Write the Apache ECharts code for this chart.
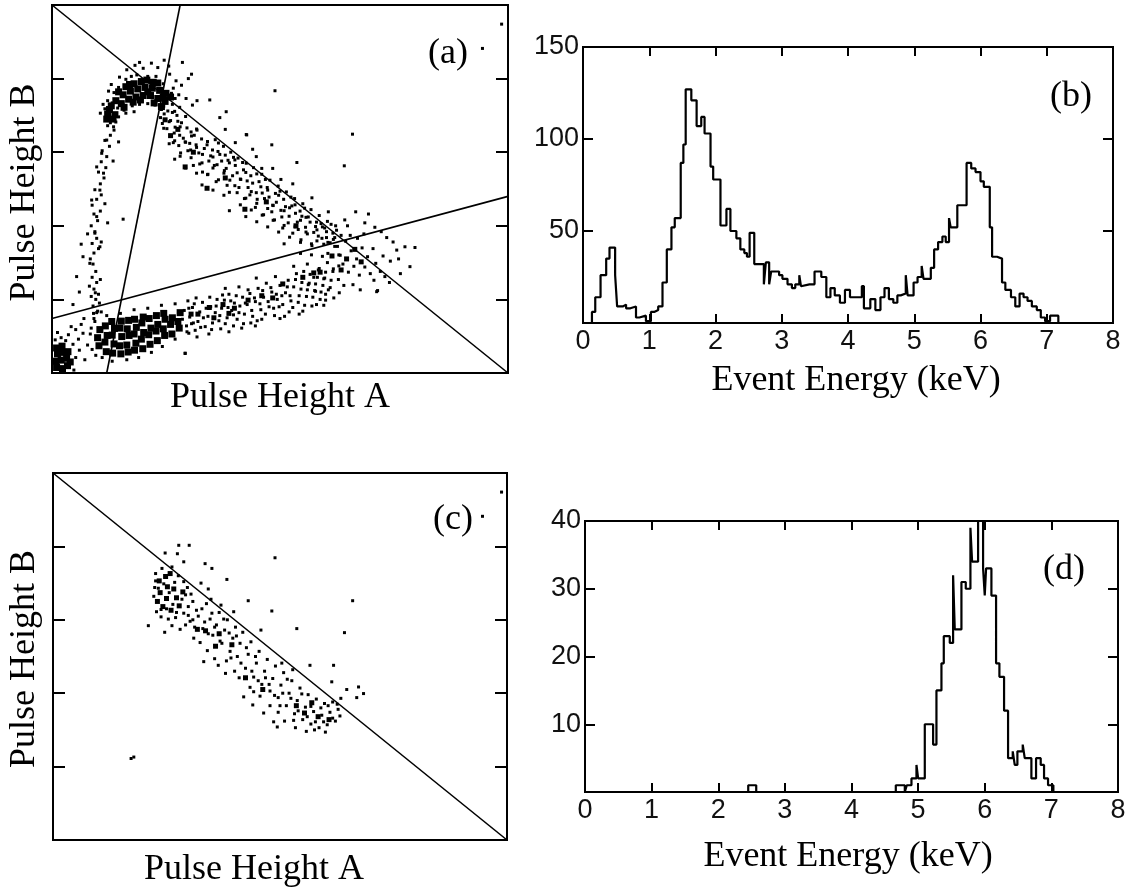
<!DOCTYPE html>
<html>
<head>
<meta charset="utf-8">
<script src="https://cdn.jsdelivr.net/npm/echarts@6/dist/echarts.min.js"></script>
<style>html,body{margin:0;padding:0;background:#fff}#c{width:1131px;height:892px}</style>
</head>
<body>
<div id="c"></div>
<script>
// ---------------- DATA ----------------
// Panel (b) histogram: bin edges (keV) and counts
const edgesB = [0.135,0.185,0.265,0.35,0.40,0.485,0.515,0.60,0.65,0.715,0.80,0.85,0.95,1.025,1.075,1.135,1.20,1.265,1.335,1.385,1.475,1.515,1.55,1.635,1.715,1.785,1.835,1.925,1.965,2.075,2.165,2.225,2.315,2.375,2.435,2.475,2.515,2.585,2.73,2.76,2.81,2.84,2.96,3.01,3.087,3.153,3.204,3.265,3.29,3.316,3.418,3.495,3.597,3.673,3.735,3.80,3.878,3.954,4.03,4.209,4.24,4.276,4.337,4.413,4.49,4.551,4.617,4.684,4.745,4.796,4.872,4.90,4.99,5.05,5.112,5.14,5.18,5.25,5.30,5.36,5.425,5.475,5.525,5.55,5.575,5.65,5.79,5.86,5.925,6.0,6.05,6.14,6.175,6.25,6.325,6.375,6.46,6.525,6.59,6.65,6.71,6.775,6.85,6.91,6.975,7.05,7.175];
const countsB = [6,14,26,35,41,26,9,10,8,9,3,4,1,6,7,9,22,40,52,57,87,97,127,121,107,112,103,85,78,53,62,50,46,40,38,36,49,32,21,33,21,28,26,24,21,19,21,26,20,21,21,28,25,14,19,15,11,18,14,20,8,8,13,7,14,19,13,11,15,16,26,15,22,25,31,24,24,30,40,44,47,44,57,52,52,64,87,84,82,77,74,52,36,35,22,18,14,9,16,14,12,9,7,3,1,4];

// Panel (d) histogram
const edgesD = [2.45,2.57,4.665,4.80,4.83,4.90,4.975,5.0,5.025,5.10,5.225,5.275,5.35,5.385,5.475,5.525,5.55,5.585,5.65,5.715,5.785,5.81,5.85,5.90,5.925,5.975,6.0,6.02,6.10,6.17,6.22,6.29,6.35,6.42,6.45,6.49,6.57,6.60,6.63,6.70,6.77,6.84,6.86,6.89,6.95,7.03];
const countsD = [1,0,1,0,1,2,4,2,2,10,7,15,19,23,22,32,24,24,31,30,39,34,34,40,44,33,29,33,29,19,17,12,5,6,4,6,7,5,5,2,5,4,4,2,1];

// Tick labels
const energyTicks = [0,1,2,3,4,5,6,7,8];

// Panel (a) cut lines (arbitrary pulse-height units 0-100)
const cutA1 = [[0,100],[100,0]];
const cutA2 = [[28.1,100],[12,0]];
const cutA3 = [[0,14.8],[100,48]];
// Panel (c) cut line
const cutC1 = [[0,100],[100,0]];

// Panel (a) events
const aCornerDense = [[1,1.5],[2.3,1.2],[3.4,2],[0.9,3.2],[2,3.5],[3.2,4],[1.2,5.2],[2.5,5.6],[3.5,5.8],[1,6.8],[2.2,7.3],[4,3]];
const aCornerSparse = [[4.8,0.8],[5.2,4.2],[4.6,7.8],[6,6.2],[2,9.6],[3.6,10.4],[5.8,9.2],[5.2,11.8],[1.2,11],[7.2,3.6],[7.8,7.6],[6.8,10.8],[3,8.8],[0.7,9],[4.2,12.6],[6.4,13.2],[8.4,10.6]];
const aLowDense = [[10.3,7.4],[10,9.6],[10.5,11.8],[11.9,5.8],[11.6,8.4],[12.1,10.2],[11.7,12.8],[13.3,5.4],[13.6,7.9],[13.2,10.3],[13.7,12.1],[13.1,14],[15.1,5.2],[14.8,7.4],[15.3,9.9],[14.9,12.2],[15.2,14.1],[16.7,5.7],[16.4,7.6],[16.9,10.2],[16.5,12],[16.8,14.3],[18.1,6.2],[18.4,8.1],[18,10.6],[18.5,12.4],[18.1,14.6],[19.9,6.6],[19.6,9.2],[20.1,11],[19.7,13.6],[20,15.2],[21.5,7.8],[21.2,10.4],[21.7,12.2],[21.3,14.8],[23.1,8.8],[22.8,11.4],[23.2,13.2],[22.9,15.6],[24.7,10.2],[24.4,12],[24.8,14.6],[24.5,16.2],[26.3,10.6],[26,13.2],[26.4,15],[27.9,12.2],[27.6,14],[28.1,16.4]];
const aLowSparse = [[8.6,12.2],[9.2,14.8],[8.8,6.4],[11,4.2],[13.2,3.2],[16.4,3.6],[19,4.2],[21.8,5.6],[24.2,7.2],[27,9.2],[29.2,5.4],[12,15.6],[15,16.2],[18,17.2],[21,17.6],[24,18.4],[27,18.8],[30,17.6],[29.6,11.2],[31,13.6],[10,16.8],[9.6,4.8]];
const aBand = [[29.5,12.8],[30.2,15.2],[30.8,17.8],[31.4,11.6],[32,14],[32.4,16.6],[33,19.2],[33.6,12.6],[34.2,15.4],[34.8,18],[35.2,13.6],[35.8,16.4],[36.2,20],[29.8,19.6],[31.6,20.4],
 [36.6,14.2],[37.2,17.6],[37.8,19.8],[38.4,15],[38.8,21.4],[39.4,17],[40,19],[40.6,14.6],[41.2,18.2],[41.8,20.6],[42.2,16],[37,12],[39.8,12.8],[42,13.4],[38,23],[41,23.4],
 [42.8,18.6],[43.4,21.6],[44,15.4],[44.6,19.4],[45.2,23],[45.8,17.2],[46.4,20.6],[47,24.4],[47.6,18],[48.2,22],[48.8,15.6],[49.4,20],[50,23.8],[43.6,13.6],[46,14.6],[49,26.2],[44.8,25.8],
 [50.6,18.6],[51.2,21.8],[51.8,25.2],[52.4,19.6],[53,23.4],[53.6,27],[54.2,21],[54.8,24.6],[55.4,18.4],[56,22.6],[56.6,26.8],[57.2,20.6],[57.8,24.2],[58.4,28],[59,22],[59.6,25.6],[52,16.6],[55,16.8],[58,18.6],[60,19.8],[53,29],[56,29.6]];
const aBand2 = [[28.6,14.6],[29,17],[30,10.8],[30.6,13.4],[31.2,18.8],[32.6,12.4],[33.2,15],[33.8,17.6],[34.6,20.6],[35,11.8],[36,18.2],[36.8,15.6],[37.4,21.2],[38,13.4],[38.6,17.8],[39.2,19.6],[39.8,15.8],[40.4,21],[41,16.4],[41.6,12.2],[42.4,19],[43,22.6],[43.8,17],[44.4,20.4],[45,14.2],[45.6,18.8],[46.2,22.4],[46.8,16],[47.4,19.4],[48,23.2],[48.6,17.6],[49.2,21.4],[49.8,18],[50.4,21],[51,15.4],[51.6,23.4],[52.2,21],[52.8,17.8],[53.4,25.4],[54,19.2],[54.6,22.8],[55.2,27.6],[55.8,20.8],[56.4,24.4],[57,18.2],[57.6,22.4],[58.2,26],[58.8,20],[59.4,23.8],[60,27.4],[60.6,22.6],[61.2,25.2],[61.8,20.4],[31.8,9.8],[34.4,10.6],[38.8,11.2],[44.6,12.8],[50,14.8],[54.2,16],[59.6,18.4]];
const aBandClumps = [[34.5,17.8],[37.5,18.6],[40,17.6],[43,19.8],[50.6,24.2],[55,26],[57.4,27.2],[46,21],[32,16],[35.5,15],[30.5,16],[38.8,16.2],[48.4,20.4]];
const aLeftArm = [[9.4,14],[9.8,16.4],[9,18.2],[9.6,20],[10.2,21.4],[9.2,22.8],[9.8,24.6],[8.8,26],[9.6,27.6],[10.4,19],[8.6,20.8],[10.6,25.4],[9,29.6],[8.2,23.6],[10.8,16.6],
 [8.4,31],[9.2,32.6],[10.2,33.8],[8.8,35.2],[9.8,36.6],[10.8,35.6],[9.4,38.4],[8.6,40],[10,41.4],[9.2,43.2],[10.6,44],[8.8,45.6],[9.8,47.2],[10.8,48.4],[9.4,49.8],[11.6,46],[7.8,37.8],[12.2,40.8],[15.6,41.8],
 [10.6,51.4],[11.4,53],[10.2,54.6],[11.8,55.8],[10.8,57.4],[12,58.8],[11,60.4],[12.6,61.6],[11.6,63.2],[12.8,64.6],[13.6,66],[12.2,67.2],[14,68.2],[13,69.4],[9.8,56],[14.6,62.8],[13.4,57.6],
 [5.4,26.2],[6,22],[4.6,18.6],[7,14.8],[6.8,31.6],[6.4,35],[9.5,21.8],[9.1,16.2],[8.3,29.8],[10.5,34.3],[9.4,38],[9.8,42.5],[8.7,47],[10.5,49.7],[11.3,54.3],[10.9,59.7],[12,63.3],[13.5,66.9]];
const aTopDense = [[14,74],[15.6,75.6],[17.2,76.6],[18.8,77.2],[20.4,77.6],[22,77.4],[23.6,76.8],[25,76],[15.2,73.2],[16.8,74.4],[18.4,75],[20,75.4],[21.6,75.4],[23.2,74.6],[24.8,73.8],[12.6,71.6],[13.8,70.2],[12,69],[17,78.4],[19.6,79.2],[22.2,79],
 [13,72.6],[14.6,76.4],[16.2,77.8],[18,78.6],[20.8,79.6],[23.2,78.8],[24.4,75],[21,76.4],[17.8,73.6],[19.4,74.2],[22.4,73.4],[15.8,72.2],[13.4,69],[12.2,70.4],[24,72.4],[26,75]];
const aTopSparse = [[16.4,82.4],[18.2,83.6],[20,82.8],[21.8,84.2],[23.2,83],[24.6,85],[17.4,80.6],[25.8,81.2],[27.2,79.4],[26.6,77.4],[27.8,75.6],[26.4,73],[28,72.2],[12.4,76.6],[11.2,73],[10.6,70.6],[13,78.4],[14.8,80.4],[29.4,74.6],[30.6,81.2],[28.6,84.4],[30.8,72.8],
 [29.9,80],[31.8,74],[34.6,74.2],[38.2,71],[36.8,69.4],
 [13.2,73.4],[14.4,72],[15.8,71.4],[17.6,72.6],[19.2,73],[21,73.2],[22.6,72.8],[24,71.6],[25.6,74.6],[26.2,76],[24.4,78.6],[22.8,80.6],[21,80.6],[18.6,81],[16.2,79.8],[14.6,77.6],[13.6,76.2],[12.2,74],[11.6,71.8],[12.8,68],[14.6,69.6],[16.2,70.6],[18,71],[27,74.6],[28.4,78.2],[19.2,84.4],[25.6,83.4]];
const aDiag = [[24.6,70.4],[26,68.6],[25.2,66.4],[27.4,70],[27,66.8],[28.4,68],[28,64.6],[29.6,66.6],[29.2,62.8],[30.6,64.4],[30.4,60.6],[31.8,66],[31.6,62],[32.8,63.6],[33,59.4],[34,62],[34.4,57.6],[35.2,60.6],[35.8,63.4],[36.2,56.6],[36.8,59.4],[37.6,61.6],[37.8,55],[38.6,57.8],[39.2,60],[39.6,53.6],[40.2,56.4],[40.8,58.4],[41.4,52.6],[42,55.2],[42.6,57],[43,50.4],[43.6,53.6],[44.2,55.8],[44.8,49],[45.4,52],[46,54],[46.6,47.4],[47.2,50.4],[47.8,52.4],[48.4,45.6],[49,48.8],[49.6,50.8],[50.2,44.2],[50.8,47.2],[51.4,49.2],[52,42.6],[52.6,45.4],[53.2,47.4],[53.8,41],[54.4,44],[55,46],[55.6,39.6],[56.2,42.4],[56.8,44.4],[57.4,38.2],[58,41],[58.6,42.8],[59.2,36.6],[59.8,39.4],[60.4,41.2],[61,35.4],[61.6,38],[62.2,40],[34.2,54],[38.4,51],[42.2,47.4],[46.4,43],[50.6,39.4],[54.6,36.2],[31,56.4],[28.2,59.8],[36,52],[40.6,49],[44.6,45],[48.8,41.6],[52.8,38],[57,34.6],[26.6,62.6],[33,54.6],
 [24.5,72.5],[24.5,66.5],[25.7,68.3],[25.7,62.3],[26.9,71.1],[26.9,63.1],[26.9,58.1],[28.1,66.9],[28.1,58.9],[29.3,69.7],[29.3,62.7],[29.3,55.7],[30.5,65.5],[30.5,58.5],[31.7,61.3],[31.7,54.3],[31.7,66.3],[32.9,57.1],[32.9,51.1],[34.1,62.9],[34.1,53.9],[35.3,58.7],[35.3,49.7],[35.3,55.7],[36.5,62.5],[36.5,52.5],[37.7,54.3],[37.7,48.3],[38.9,57.1],[38.9,49.1],[38.9,44.1],[40.1,57.9],[40.1,50.9],[41.3,52.7],[41.3,45.7],[42.5,54.5],[42.5,47.5],[42.5,42.5],[43.7,49.3],[43.7,44.3],[44.9,54.1],[44.9,46.1],[44.9,41.1],[46.1,48.9],[46.1,42.9],[47.3,49.7],[47.3,44.7],[47.3,39.7],[48.5,45.5],[48.5,41.5],[49.7,48.3],[49.7,38.3],[50.9,44.1],[50.9,40.1],[50.9,35.1],[52.1,44.9],[52.1,36.9],[53.3,39.7],[53.3,45.7],[54.5,41.5],[54.5,35.5],[54.5,32.5],[55.7,38.3],[55.7,42.3],[56.9,35.1],[56.9,32.1],[58.1,38.9],[58.1,35.9],[59.3,31.7],[59.3,39.7],[60.5,35.5],[60.5,32.5],[61.7,36.3],[61.7,28.3],[62.9,32.1],[62.9,29.1],
 [40.2,62.6],[44.8,58.8],[48.4,55.6],[52.8,51.4],[57,47.6],[60.6,43.8],[64.2,41.6],[42.6,64.8],[48.2,62],[53.7,57.2]];
const aDiag2 = [[23.8,69.4],[24.2,67.8],[25.4,71.2],[26.4,70.8],[27.6,68.4],[26.8,65.2],[27.8,61.8],[28.8,63.8],[29.8,60.4],[30.2,62.4],[31.2,64.6],[32.2,59.8],[32.4,56.8],[33.4,61],[34.8,59],[35.6,56.4],[36.4,60.2],[37.2,57.6],[38,59.2],[38.2,55.6],[39,52.4],[39.8,58.6],[40.6,54.4],[41,50.4],[41.8,57.2],[42.8,52.2],[43.4,48.4],[44,51.6],[45,47.2],[45.8,50.6],[46.8,52.6],[47.6,47.8],[48.2,43.8],[49.2,46.4],[50,49.4],[50.4,42.4],[51.2,45.2],[51.8,40.8],[52.4,47.8],[53.4,43.4],[54,39],[54.8,42.6],[55.4,44.8],[56,37.8],[56.6,41],[57.8,39.8],[58.4,37.2],[59,40.6],[59.6,35],[60.2,38.4],[61.2,40.4],[62,36.8],[62.6,34.4],[63.4,37.4]];
const aDiagClumps = [[29.2,56],[34,50.2],[42.3,44.5],[26,64.5],[31,60],[38,53],[47,46.5],[53.5,40],[24.8,68.8],[27.6,66.2]];
const aCross = [[62,34.4],[63.2,32],[64.4,35.8],[65.6,33.2],[66.8,31],[68,34],[69.2,31.6],[63.8,29.6],[65,27.4],[66.2,29],[67.4,26.6],[68.6,28.8],[69.8,27],[60.4,30],[61.6,27.6],[62.8,25.4],[64,23.8],[58.6,28.4],[59.8,25.8],[61,23.2],[57.4,26],[56.2,24],[65.4,37.4],[67,36.6],[68.4,37.8],[70.4,33.8],[71,29.8],[70.6,25.2],[72,27.6],[66,24],[63,21.8],[60,21.4],[57.8,22.2],[67.6,22.6],[71.4,22.4],[73,26.2],[72.6,31.8],[62.4,38.8],[64.8,40],[60.2,36.8]];
const aCrossClumps = [[64.6,31],[66.4,33.6],[61.4,31.8],[67.8,30.2],[58.8,27.4],[63.4,28]];
const aOutliers = [[74.2,30.4],[75.6,33.4],[77.4,34.3],[79.6,34.1],[78.5,28.9],[76.4,27],[74.8,35.6],[73.4,36.8],[71.2,22.1],[76,31],[72.2,38.4],[70.8,39.6],[68.6,40.8],[69.4,43.2],[66.6,43.8],[74,24.6],[65.9,64.9],[64.1,56.3],[48.9,76.7],[42.7,64.7],[98.6,94.8],[94.4,88.2],[29.2,5.3],[46,55.6],[50.2,52.6],[38,66.2],[44,60.8]];

// Panel (c) events
const cTopClumps = [[23.4,70.6],[24.8,71.8],[25.2,69],[23.6,67.4],[25,65.8],[26.6,68.4],[27.2,66],[24.2,63.6],[26,62.6],[27.8,63.8],[23,65],[28.6,67.6],[25.8,72.6]];
const cTop = [[22.6,72.6],[24,74],[26.2,74.4],[27.6,72],[28.8,70.4],[29.6,68.8],[30.4,67],[22.4,68.8],[22.2,66.4],[22.8,62.2],[23.8,60.8],[25.4,60.2],[27,60.6],[28.8,61.8],[29.8,63.6],[30.8,65],[31.6,62.6],[29.2,58.6],[30.2,59.6],[31.2,58],[26.2,58.4],[28,57.4],[21,58.4],[24.6,56.6],[27.4,78],[30,80.3],[27.7,80.3],[24.7,78.2],[28.8,75.8],[33.5,75.3],[35,74],[38.3,71],[32.6,70],[34.2,68.4]];
const cMid = [[32,61],[33,57.6],[33.8,64.4],[34.6,60.2],[35.2,55.8],[36,58.6],[36.6,62],[37.2,53.6],[37.8,57.2],[38.4,60],[39,51.4],[39.6,55],[40.2,58],[32.4,53.8],[34,51.6],[35.6,49.4],[33.2,48.6],[31,55],[36.4,47.6],[38.2,48.8],[34.8,65.6],[37,64],[39.8,62.2],
 [40.6,50],[41.2,53.6],[41.8,56.6],[42.4,46.8],[43,50.6],[43.6,54],[44.2,44.4],[44.8,48.2],[45.4,51.4],[46,42.4],[46.6,46],[47.2,49.2],[47.8,40.6],[48.4,44],[49,47.4],[49.6,38.8],[50.2,42.2],[50.8,45.6],[41,44.2],[43.4,41.6],[45.6,39.2],[47.8,36.6],[49.6,34.8],[44,36.8],[46.4,34.6],[48.6,32.2],[49.4,30.8],[42,39],[43,65.2],[48.2,62.4],[48.9,76.9],[45.8,57.2]];
const cLow = [[51.4,36.6],[52,40],[52.6,43.4],[53.2,34.4],[53.8,38],[54.4,41.4],[55,32.8],[55.6,36.2],[56.2,39.6],[56.8,31.6],[57.4,35],[58,38.4],[58.6,30.6],[59.2,34],[59.8,37.2],[60.4,31.4],[61,34.8],[61.6,37.6],[62.2,32.4],[62.8,35.6],[63.4,38.6],[51,32.4],[53.4,30.6],[55.8,29.6],[57.6,30],[60,29.4],[52.8,46.4],[50.4,48.2],[53.7,57.6],[56.6,47.6],[61.8,47.6],[61.4,43.1],[64.7,41],[67.3,41.7],[68.4,39.9],[66.9,38.8],[64.2,56.5],[66,65.2],
 [98.8,94.8],[94.6,88.2],[17.2,22.2],[17.8,22.6]];
const cMore = [[24.4,69.8],[23.2,68.6],[22.6,70.6],[25.6,67.4],[26.4,64.2],[27.2,62],[28.4,65.6],[29.2,66.8],[25,63],[23.8,62.8],[26.8,70.2],[29.8,61.2],[30.8,60],[32.8,63],[33.4,59.4],[34.2,56.2],[35,61.8],[35.6,58],[36.8,54.2],[37.6,60.2],[38.8,56.4],[39.2,49.6],[40.4,55.6],[41.4,48.2],[42.6,52.4],[43.8,46],[44.6,50],[45.2,43.4],[46.8,44.2],[47.6,42.4],[48.8,39.4],[50,36.6],[50.6,40],[51.6,43.8],[52.4,38.6],[53,32.6],[54,35.2],[54.8,39.8],[56,33.6],[56.8,36.4],[57.8,32.2],[59,36],[59.6,32.2],[60.6,36.6],[61.6,33.2],[62.6,37],[63.2,33.8],[44.2,40.4],[40,46],[38,45.4]];
const cClumps = [[33.6,57],[35.8,52.8],[31.8,57.4],[36.6,56.2],[39.4,53.2],[42.4,44.2],[46.2,41],[55.4,34.6],[58.4,33.6],[60.8,32.8],[53.6,36.6],[57,37.4]];

// ---------------- CHART ----------------
const SERIF = '"Liberation Serif","Times New Roman",serif';
const SANS = '"Liberation Sans",Arial,sans-serif';

function stepData(edges, counts) {
  const n = Math.min(counts.length, edges.length - 1);
  const d = [[edges[0], 0]];
  for (let i = 0; i < n; i++) d.push([edges[i], counts[i]]);
  d.push([edges[n], 0]);
  return d;
}

const grids = [
  {left: 52, top: 5, width: 456, height: 368},
  {left: 583, top: 47, width: 530, height: 276},
  {left: 53, top: 473, width: 454, height: 367},
  {left: 585, top: 521, width: 533, height: 271}
].map(g => Object.assign(g, {show: true, borderColor: '#000', borderWidth: 2, backgroundColor: 'transparent', containLabel: false}));

const noLine = {show: false, onZero: false};
function plainX(gi) {
  return {type: 'value', gridIndex: gi, min: 0, max: 100, axisLine: noLine, axisTick: {show: false}, axisLabel: {show: false}, splitLine: {show: false}};
}
function tickY(gi, pos) {
  return {type: 'value', gridIndex: gi, position: pos, min: 0, max: 100, interval: 20, axisLine: noLine,
    axisTick: {show: true, inside: true, length: 12, lineStyle: {color: '#000', width: 2}}, axisLabel: {show: false}, splitLine: {show: false}};
}
function energyX(gi, pos, labels) {
  return {type: 'value', gridIndex: gi, position: pos, min: energyTicks[0], max: energyTicks[energyTicks.length - 1], interval: 1,
    axisLine: noLine, splitLine: {show: false},
    axisTick: {show: true, inside: true, length: 9, lineStyle: {color: '#000', width: 2}},
    axisLabel: {show: labels, margin: 5, fontFamily: SANS, fontSize: 27, color: '#111'}};
}
function countY(gi, pos, max, interval, labels) {
  return {type: 'value', gridIndex: gi, position: pos, min: 0, max: max, interval: interval,
    axisLine: noLine, splitLine: {show: false},
    axisTick: {show: true, inside: true, length: 10, lineStyle: {color: '#000', width: 2}},
    axisLabel: {show: labels, showMinLabel: false, margin: 4, fontFamily: SANS, fontSize: 27, color: '#111'}};
}
function scatA(data, size) {
  return {type: 'scatter', xAxisIndex: 0, yAxisIndex: 0, data: data, symbol: 'rect', symbolSize: size, itemStyle: {color: '#000', opacity: 1}, silent: true};
}
function scatC(data, size) {
  return {type: 'scatter', xAxisIndex: 3, yAxisIndex: 4, data: data, symbol: 'rect', symbolSize: size, itemStyle: {color: '#000', opacity: 1}, silent: true};
}
function cut(data, xi, yi) {
  return {type: 'line', xAxisIndex: xi, yAxisIndex: yi, data: data, symbol: 'none', lineStyle: {color: '#000', width: 1.6}, silent: true};
}
function hist(data, xi, yi) {
  return {type: 'line', xAxisIndex: xi, yAxisIndex: yi, data: data, step: 'end', symbol: 'none', clip: true,
    lineStyle: {color: '#000', width: 2.2}, silent: true};
}
function txt(s, x, y, rot) {
  return {type: 'text', x: x, y: y, rotation: rot || 0, silent: true,
    style: {text: s, font: '36px ' + SERIF, fill: '#000', textAlign: 'center', textVerticalAlign: 'middle', verticalAlign: 'middle'}};
}

const option = {
  animation: false,
  backgroundColor: '#fff',
  grid: grids,
  xAxis: [plainX(0), energyX(1, 'bottom', true), energyX(1, 'top', false), plainX(2), energyX(3, 'bottom', true), energyX(3, 'top', false)],
  yAxis: [tickY(0, 'left'), tickY(0, 'right'), countY(1, 'left', 150, 50, true), countY(1, 'right', 150, 50, false),
          tickY(2, 'left'), tickY(2, 'right'), countY(3, 'left', 40, 10, true), countY(3, 'right', 40, 10, false)],
  series: [
    cut(cutA1, 0, 0), cut(cutA2, 0, 0), cut(cutA3, 0, 0),
    scatA(aCornerDense, 7), scatA(aCornerSparse, 3), scatA(aLowDense, 7), scatA(aLowSparse, 3),
    scatA(aBand, 3), scatA(aBand2, 3), scatA(aBandClumps, 5), scatA(aLeftArm, 3), scatA(aTopDense, 7), scatA(aTopSparse, 3),
    scatA(aDiag, 3), scatA(aDiag2, 3), scatA(aDiagClumps, 5), scatA(aCross, 3), scatA(aCrossClumps, 5), scatA(aOutliers, 3),
    hist(stepData(edgesB, countsB), 1, 2),
    cut(cutC1, 3, 4),
    scatC(cTopClumps, 5), scatC(cTop, 3), scatC(cMid, 3), scatC(cLow, 3), scatC(cMore, 3), scatC(cClumps, 5),
    hist(stepData(edgesD, countsD), 4, 6)
  ],
  graphic: [
    txt('Pulse Height A', 280, 397.5),
    txt('Pulse Height A', 254, 870),
    txt('Pulse Height B', 25, 192.5, Math.PI / 2),
    txt('Pulse Height B', 25, 659, Math.PI / 2),
    txt('Event Energy (keV)', 856, 381),
    txt('Event Energy (keV)', 848, 857),
    txt('(a)', 448, 53.6),
    txt('(b)', 1071, 97),
    txt('(c)', 453, 520),
    txt('(d)', 1064, 570)
  ]
};

const chart = echarts.init(document.getElementById('c'), null, {renderer: 'canvas'});
chart.setOption(option);
</script>
</body>
</html>
